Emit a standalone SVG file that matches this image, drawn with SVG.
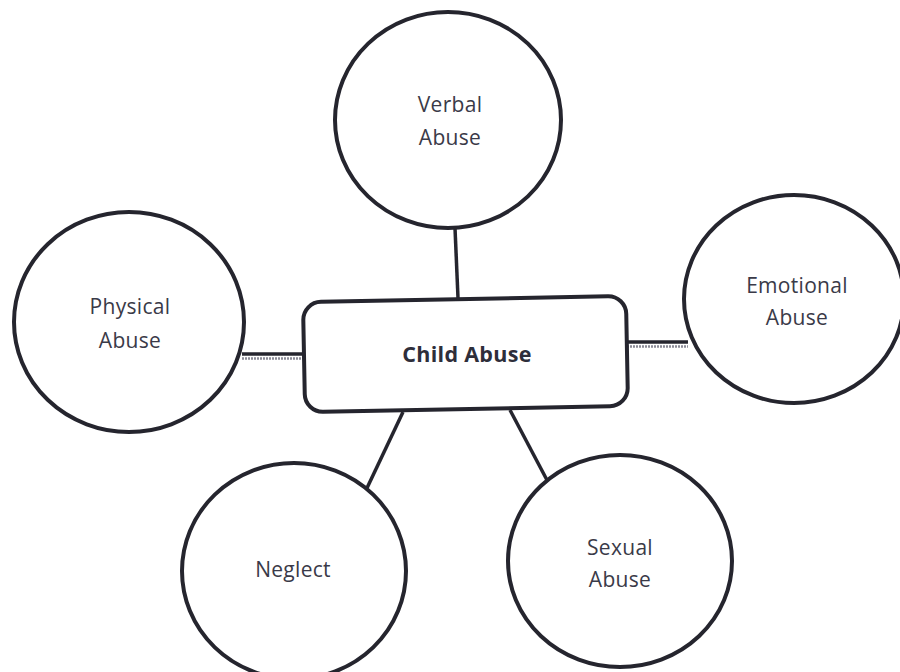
<svg xmlns="http://www.w3.org/2000/svg" width="900" height="672" viewBox="0 0 900 672">
<style>
.node{fill:#ffffff;stroke:#25252e;stroke-width:4}
.lbl{font-family:"Open Sans","Noto Sans",sans-serif;font-size:21px;fill:#3a3a48;text-anchor:middle;letter-spacing:0.3px}
.bold{font-weight:bold;font-size:21.5px;fill:#2e2e3a}
.con{stroke:#25252e;stroke-width:3.5;fill:none;stroke-linecap:butt}
.shade{stroke:#8a8a96;stroke-width:2.5;stroke-dasharray:2 1;fill:none}
</style>
<rect width="900" height="672" fill="#ffffff"/>
<g id="connectors">
<line class="con" x1="455" y1="228" x2="458" y2="298"/>
<line class="con" x1="242" y1="354" x2="305" y2="354"/>
<line class="shade" x1="242" y1="358.5" x2="305" y2="358.5"/>
<line class="con" x1="627" y1="342" x2="688" y2="342"/>
<line class="shade" x1="627" y1="346.5" x2="688" y2="346.5"/>
<line class="con" x1="403" y1="412" x2="367" y2="488"/>
<line class="con" x1="510" y1="410" x2="548" y2="482"/>
</g>
<g id="child-abuse">
<rect class="node" x="304" y="299" width="323" height="110" rx="18" ry="18" stroke-width="4.5" transform="rotate(-1.1 466 354)"/>
<text class="lbl bold" x="467" y="362">Child Abuse</text>
</g>
<g id="verbal-abuse">
<ellipse class="node" cx="448" cy="120" rx="113" ry="108"/>
<text class="lbl" x="450" y="112">Verbal</text>
<text class="lbl" x="450" y="145">Abuse</text>
</g>
<g id="physical-abuse">
<ellipse class="node" cx="129" cy="322" rx="115" ry="110"/>
<text class="lbl" x="130" y="314">Physical</text>
<text class="lbl" x="130" y="348">Abuse</text>
</g>
<g id="emotional-abuse">
<ellipse class="node" cx="794" cy="299" rx="110" ry="104"/>
<text class="lbl" x="797" y="293">Emotional</text>
<text class="lbl" x="797" y="325">Abuse</text>
</g>
<g id="neglect">
<ellipse class="node" cx="294" cy="571" rx="112" ry="108"/>
<text class="lbl" x="293" y="577">Neglect</text>
</g>
<g id="sexual-abuse">
<ellipse class="node" cx="620" cy="561" rx="112" ry="106"/>
<text class="lbl" x="620" y="555">Sexual</text>
<text class="lbl" x="620" y="587">Abuse</text>
</g>
</svg>
